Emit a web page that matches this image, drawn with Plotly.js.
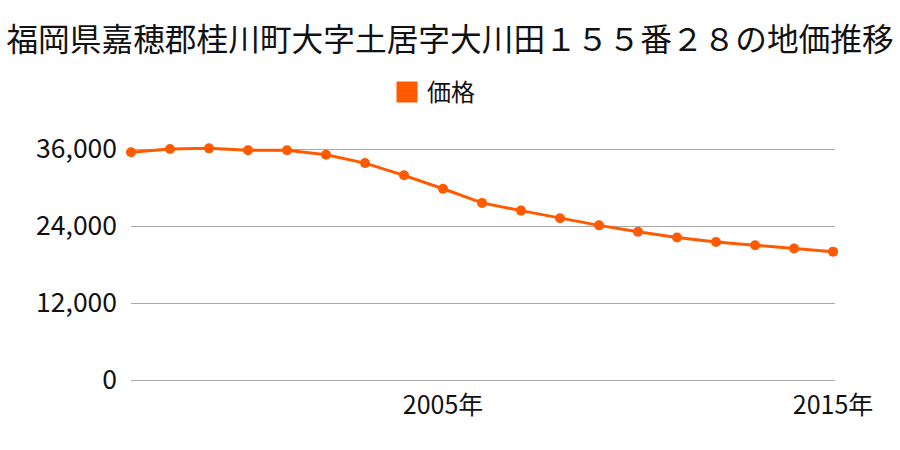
<!DOCTYPE html>
<html>
<head>
<meta charset="utf-8">
<script src="https://cdn.plot.ly/plotly-3.0.1.min.js"></script>
<style>html,body{margin:0;padding:0;background:#fff;}#chart{width:900px;height:450px;}</style>
</head>
<body>
<div id="chart"></div>
<script>
const years = [1997,1998,1999,2000,2001,2002,2003,2004,2005,2006,2007,2008,2009,2010,2011,2012,2013,2014,2015];
const prices = [35500,36000,36100,35800,35800,35100,33800,31900,29800,27600,26400,25200,24100,23100,22200,21500,21000,20500,20000];
const seriesName = '価格';
const titleText = '福岡県嘉穂郡桂川町大字土居字大川田１５５番２８の地価推移';
const xTickVals = [2005, 2015];
const xTickText = ['2005年', '2015年'];
const yTickVals = [0, 12000, 24000, 36000];

const color = '#ff5a00';
const font = '"Noto Sans CJK JP", "Noto Sans", sans-serif';

const traces = [
  {
    x: years, y: prices, type: 'scatter', mode: 'lines+markers',
    line: {color: color, width: 3},
    marker: {color: color, size: 10},
    showlegend: false, cliponaxis: false, hoverinfo: 'x+y'
  },
  {
    x: [null], y: [null], type: 'scatter', mode: 'markers', name: seriesName,
    marker: {color: color, symbol: 'square', size: 16, line: {color: color, width: 5}},
    showlegend: true
  }
];

const layout = {
  width: 900, height: 450,
  margin: {l: 131, r: 65, t: 146, b: 70},
  paper_bgcolor: '#fff', plot_bgcolor: '#fff',
  font: {family: font, color: '#111'},
  title: {text: titleText, font: {size: 31.7, family: font, color: '#111'}, x: 0.5, xanchor: 'center', xref: 'container', y: 1 - 40/450, yref: 'container', yanchor: 'middle'},
  showlegend: true,
  legend: {orientation: 'h', xref: 'container', yref: 'container', x: 387/900, xanchor: 'left', y: 1 - 92.5/450, yanchor: 'middle', font: {size: 24, family: font, color: '#111'}},
  xaxis: {range: [1997, 2015.05], tickvals: xTickVals, ticktext: xTickText, showgrid: false, zeroline: false, showline: false, ticks: '', tickfont: {size: 25, family: font, color: '#111'}, ticklabelstandoff: 8, fixedrange: true},
  yaxis: {range: [0, 36467], tickvals: yTickVals, tickformat: ',d', showgrid: true, gridcolor: '#aaaaaa', gridwidth: 1, zeroline: true, zerolinecolor: '#aaaaaa', zerolinewidth: 1, showline: false, ticks: '', tickfont: {size: 26.5, family: font, color: '#111'}, ticklabelstandoff: 13, fixedrange: true}
};

Plotly.newPlot('chart', traces, layout, {displayModeBar: false, staticPlot: true});
</script>
</body>
</html>
